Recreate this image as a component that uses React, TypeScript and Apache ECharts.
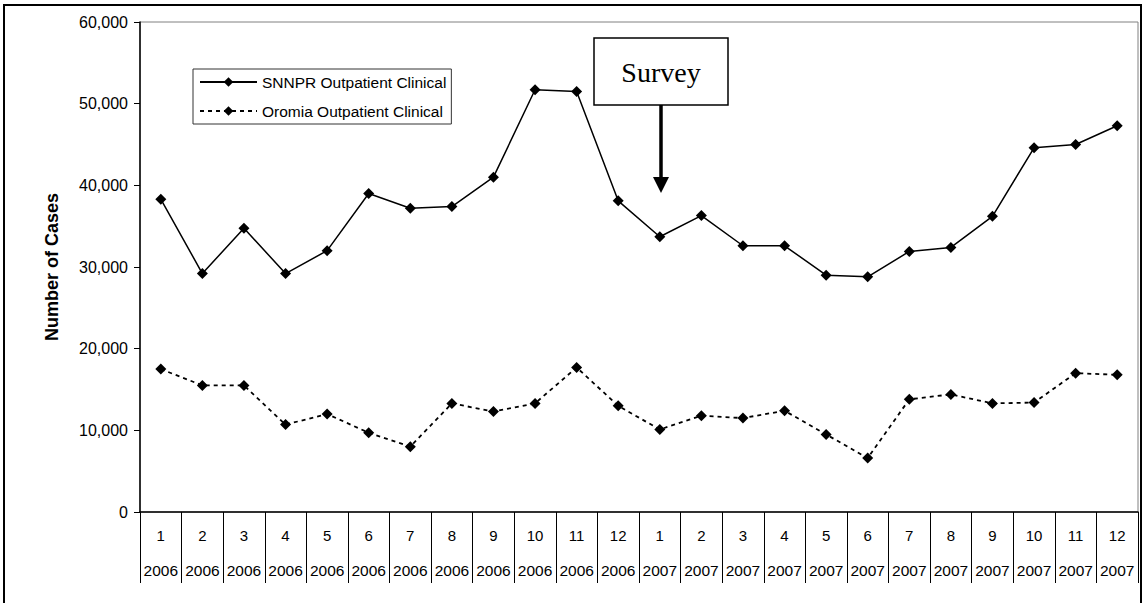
import React, { useEffect, useRef } from "react";
import * as echarts from "echarts";

const months = ["1","2","3","4","5","6","7","8","9","10","11","12","1","2","3","4","5","6","7","8","9","10","11","12"];
const years = ["2006","2006","2006","2006","2006","2006","2006","2006","2006","2006","2006","2006","2007","2007","2007","2007","2007","2007","2007","2007","2007","2007","2007","2007"];
const snnpr = [38300, 29200, 34750, 29200, 32000, 39000, 37200, 37400, 41000, 51700, 51500, 38100, 33700, 36300, 32600, 32600, 29000, 28800, 31900, 32400, 36200, 44600, 45000, 47300];
const oromia = [17500, 15500, 15500, 10700, 12000, 9700, 8000, 13300, 12300, 13300, 17700, 13000, 10100, 11800, 11500, 12400, 9500, 6600, 13800, 14400, 13300, 13400, 17000, 16800];
const seriesNames = ["SNNPR Outpatient Clinical", "Oromia Outpatient Clinical"];
const yTicks = { min: 0, max: 60000, interval: 10000 };
const yTitle = "Number of Cases";
const annotation = "Survey";

const FONT = "Liberation Sans, Arial, sans-serif";

export default function App() {
  const ref = useRef<HTMLDivElement>(null);
  useEffect(() => {
    if (!ref.current) return;
    const chart = echarts.init(ref.current, undefined, { renderer: "svg" });
    const cats = months.map((m, i) => m + "|" + years[i]);
    chart.setOption({
      animation: false,
      backgroundColor: "#ffffff",
      grid: {
        left: 140,
        top: 22,
        right: 9,
        bottom: 91,
        show: true,
        borderColor: "#808080",
        borderWidth: 1,
        backgroundColor: "transparent",
      },
      legend: {
        orient: "vertical",
        left: 193,
        top: 69,
        padding: [5, 5, 5, 6],
        itemGap: 13,
        itemWidth: 57,
        itemHeight: 12,
        borderColor: "#333",
        borderWidth: 1,
        backgroundColor: "#fff",
        textStyle: { fontFamily: FONT, fontSize: 15.5, color: "#000" },
        data: seriesNames,
      },
      xAxis: {
        type: "category",
        data: cats,
        boundaryGap: true,
        axisLine: { lineStyle: { color: "#000", width: 1.5 } },
        axisTick: { show: true, length: 71, lineStyle: { color: "#000", width: 1 } },
        axisLabel: {
          interval: 0,
          margin: 6,
          formatter: (v: string) => {
            const [m, y] = v.split("|");
            return `{m|${m}}\n{y|${y}}`;
          },
          rich: {
            m: { fontFamily: FONT, fontSize: 15, lineHeight: 35, color: "#000" },
            y: { fontFamily: FONT, fontSize: 15.5, lineHeight: 35, color: "#000" },
          },
        },
        splitLine: { show: false },
      },
      yAxis: {
        type: "value",
        min: yTicks.min,
        max: yTicks.max,
        interval: yTicks.interval,
        name: yTitle,
        nameLocation: "middle",
        nameGap: 79,
        nameTextStyle: { fontFamily: FONT, fontSize: 18, fontWeight: "bold", color: "#000" },
        axisLine: { show: true, lineStyle: { color: "#000", width: 1.5 } },
        axisTick: { show: true, length: 6, lineStyle: { color: "#000" } },
        axisLabel: {
          margin: 12,
          fontFamily: FONT,
          fontSize: 16,
          color: "#000",
          formatter: (v: number) => v.toLocaleString("en-US"),
        },
        splitLine: { show: false },
      },
      series: [
        {
          name: seriesNames[0],
          type: "line",
          data: snnpr,
          symbol: "diamond",
          symbolSize: 11,
          itemStyle: { color: "#000" },
          lineStyle: { color: "#000", width: 1.5, type: "solid" },
        },
        {
          name: seriesNames[1],
          type: "line",
          data: oromia,
          symbol: "diamond",
          symbolSize: 11,
          itemStyle: { color: "#000" },
          lineStyle: { color: "#000", width: 1.8, type: [4, 4] },
        },
      ],
      graphic: [
        {
          type: "rect",
          shape: { x: 4, y: 5, width: 1137, height: 640 },
          style: { fill: "transparent", stroke: "#000", lineWidth: 2 },
          silent: true,
          z: 100,
        },
        {
          type: "rect",
          shape: { x: 594, y: 38, width: 134, height: 67 },
          style: { fill: "#fff", stroke: "#000", lineWidth: 1.5 },
          z: 100,
        },
        {
          type: "text",
          x: 661,
          y: 72,
          style: {
            text: annotation,
            fontFamily: "Liberation Serif, Times New Roman, serif",
            fontSize: 28,
            fill: "#000",
            align: "center",
            verticalAlign: "middle",
          },
          z: 101,
        },
        {
          type: "line",
          shape: { x1: 661, y1: 105, x2: 661, y2: 180 },
          style: { stroke: "#000", lineWidth: 3.5 },
          z: 100,
        },
        {
          type: "polygon",
          shape: { points: [[653, 177], [669, 177], [661, 193]] },
          style: { fill: "#000" },
          z: 100,
        },
      ],
    });
    return () => chart.dispose();
  }, []);
  return (
    <div
      ref={ref}
      style={{ position: "fixed", left: 0, top: 0, width: 1147, height: 603 }}
    />
  );
}
